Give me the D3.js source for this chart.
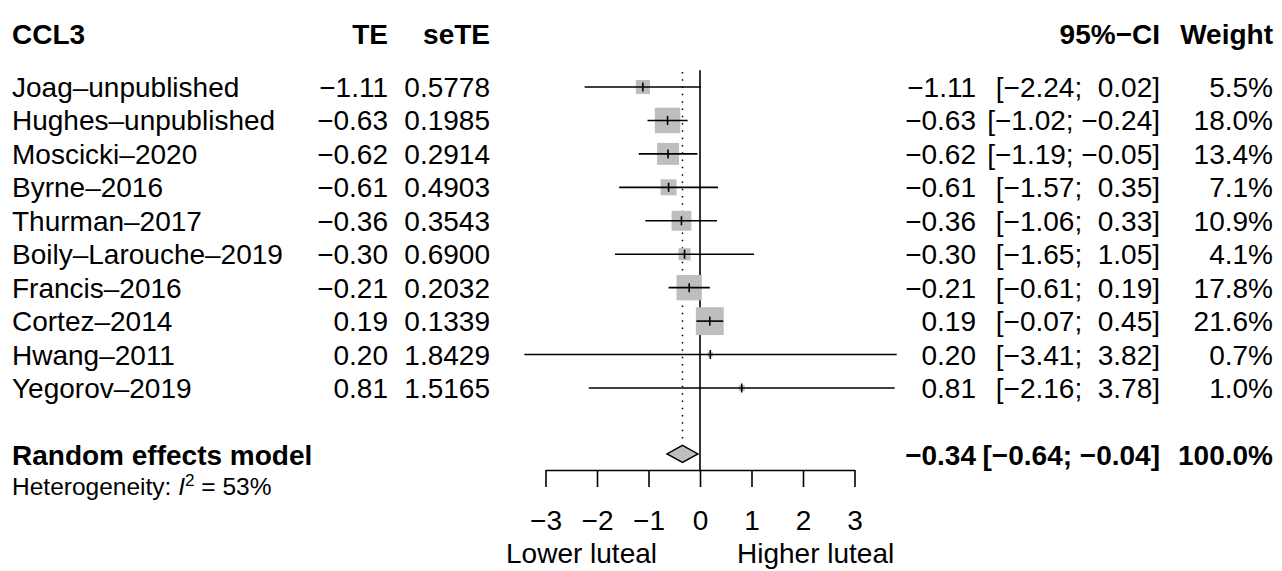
<!DOCTYPE html>
<html>
<head>
<meta charset="utf-8">
<script src="https://cdn.jsdelivr.net/npm/d3@7"></script>
<style>
  html, body { margin: 0; padding: 0; background: #fff; }
  svg { display: block; font-family: "Liberation Sans", Arial, Helvetica, sans-serif; }
  text { white-space: pre; fill: #000; }
</style>
</head>
<body>
<svg id="chart" width="1282" height="571"></svg>
<script>
// Study-level data for the CCL3 meta-analysis
const studies = ["Joag–unpublished", "Hughes–unpublished", "Moscicki–2020", "Byrne–2016",
  "Thurman–2017", "Boily–Larouche–2019", "Francis–2016", "Cortez–2014", "Hwang–2011", "Yegorov–2019"];
const te = [-1.11, -0.63, -0.62, -0.61, -0.36, -0.30, -0.21, 0.19, 0.20, 0.81];
const seTE = ["0.5778", "0.1985", "0.2914", "0.4903", "0.3543", "0.6900", "0.2032", "0.1339", "1.8429", "1.5165"];
const lower = [-2.24, -1.02, -1.19, -1.57, -1.06, -1.65, -0.61, -0.07, -3.41, -2.16];
const upper = [0.02, -0.24, -0.05, 0.35, 0.33, 1.05, 0.19, 0.45, 3.82, 3.78];
const weight = [5.5, 18.0, 13.4, 7.1, 10.9, 4.1, 17.8, 21.6, 0.7, 1.0];

// Pooled random-effects estimate
const pooled = { label: "Random effects model", te: -0.34, lower: -0.64, upper: -0.04, weight: 100.0 };
const heterogeneityI2 = 53;

const tickValues = [-3, -2, -1, 0, 1, 2, 3];
const labelLeft = "Lower luteal";
const labelRight = "Higher luteal";
const headers = { study: "CCL3", te: "TE", se: "seTE", ci: "95%−CI", w: "Weight" };

const svg = d3.select("#chart");
const FS = 28;
const capShift = FS * 0.358;

const x = d3.scaleLinear().domain([-3, 3]).range([545.5, 854.5]);
const row = d3.scaleLinear().domain([0, 9]).range([87, 388]);
const side = d3.scaleSqrt().domain([0, 100]).range([0, 60]);

const col = { study: 12, te: 388, se: 490, eff: 976, ci: 1160, w: 1273 };

const fmt = v => d3.format(".2f")(v).replace("-", "−");
const fmtCI = (lo, hi) => {
  const a = fmt(lo), b = fmt(hi);
  return "[" + (lo >= 0 ? " " : "") + a + "; " + (hi >= 0 ? " " : "") + b + "]";
};

function txt(g, xx, yy, s, anchor, weightBold, size) {
  return g.append("text")
    .attr("x", xx)
    .attr("y", yy + (size || FS) * 0.358)
    .attr("text-anchor", anchor || "start")
    .attr("font-size", size || FS)
    .attr("font-weight", weightBold ? "bold" : "normal")
    .text(s);
}

// Header row
const yHead = row(-1.6);
const head = svg.append("g");
txt(head, col.study, yHead, headers.study, "start", true);
txt(head, col.te, yHead, headers.te, "end", true);
txt(head, col.se, yHead, headers.se, "end", true);
txt(head, col.ci, yHead, headers.ci, "end", true);
txt(head, col.w, yHead, headers.w, "end", true);

// Reference line at zero and dotted line at the pooled estimate
const yPool = row(11);
const yAxis = 470;
svg.append("line")
  .attr("x1", x(0)).attr("x2", x(0))
  .attr("y1", row(-0.5)).attr("y2", yAxis)
  .attr("stroke", "#000").attr("stroke-width", 1.6);
svg.append("line")
  .attr("x1", x(pooled.te)).attr("x2", x(pooled.te))
  .attr("y1", row(-0.45)).attr("y2", row(10.55))
  .attr("stroke", "#000").attr("stroke-width", 1.5)
  .attr("stroke-dasharray", "1.5,5.8");

// Study rows
const rows = svg.append("g").selectAll("g").data(studies).join("g");
rows.each(function (name, i) {
  const g = d3.select(this);
  const y = row(i);
  txt(g, col.study, y, name, "start");
  txt(g, col.te, y, fmt(te[i]), "end");
  txt(g, col.se, y, seTE[i], "end");
  txt(g, col.eff, y, fmt(te[i]), "end");
  txt(g, col.ci, y, fmtCI(lower[i], upper[i]), "end");
  txt(g, col.w, y, d3.format(".1f")(weight[i]) + "%", "end");

  const s = side(weight[i]);
  g.append("rect")
    .attr("x", x(te[i]) - s / 2).attr("y", y - s / 2)
    .attr("width", s).attr("height", s)
    .attr("fill", "#bebebe");
  g.append("line")
    .attr("x1", x(lower[i])).attr("x2", x(upper[i]))
    .attr("y1", y).attr("y2", y)
    .attr("stroke", "#000").attr("stroke-width", 1.6);
  g.append("line")
    .attr("x1", x(te[i])).attr("x2", x(te[i]))
    .attr("y1", y - 4.5).attr("y2", y + 4.5)
    .attr("stroke", "#000").attr("stroke-width", 1.6);
});

// Pooled estimate row
const pg = svg.append("g");
txt(pg, col.study, yPool, pooled.label, "start", true);
txt(pg, col.eff, yPool, fmt(pooled.te), "end", true);
txt(pg, col.ci, yPool, fmtCI(pooled.lower, pooled.upper), "end", true);
txt(pg, col.w, yPool, d3.format(".1f")(pooled.weight) + "%", "end", true);
const dh = 8.5, yd = yPool - 1;
pg.append("path")
  .attr("d", d3.line()([
    [x(pooled.lower), yd], [x(pooled.te), yd - dh],
    [x(pooled.upper), yd], [x(pooled.te), yd + dh]
  ]) + "Z")
  .attr("fill", "#bebebe").attr("stroke", "#000").attr("stroke-width", 1.4);

// Heterogeneity line
const hs = 24.5;
const het = svg.append("text")
  .attr("x", col.study).attr("y", row(11.95) + hs * 0.358)
  .attr("font-size", hs);
het.append("tspan").text("Heterogeneity: ");
het.append("tspan").attr("font-style", "italic").text("I");
het.append("tspan").attr("font-size", hs * 0.7).attr("dy", -hs * 0.4).text("2");
het.append("tspan").attr("dy", hs * 0.4).text(" = " + heterogeneityI2 + "%");

// Effect axis
const axis = d3.axisBottom(x)
  .tickValues(tickValues)
  .tickSize(17)
  .tickSizeOuter(0)
  .tickFormat(d3.format("d"));
const ag = svg.append("g").attr("transform", `translate(0,${yAxis})`).call(axis);
ag.select(".domain").attr("stroke", "#000").attr("stroke-width", 1.6);
ag.selectAll(".tick line").attr("stroke", "#000").attr("stroke-width", 1.6);
ag.selectAll(".tick text")
  .attr("font-size", FS)
  .attr("font-family", "Liberation Sans, Arial, Helvetica, sans-serif")
  .attr("fill", "#000")
  .attr("dy", null)
  .attr("y", 50 + capShift);

txt(svg, x(0) - 43, 553, labelLeft, "end");
txt(svg, x(0) + 37, 553, labelRight, "start");
</script>
</body>
</html>
